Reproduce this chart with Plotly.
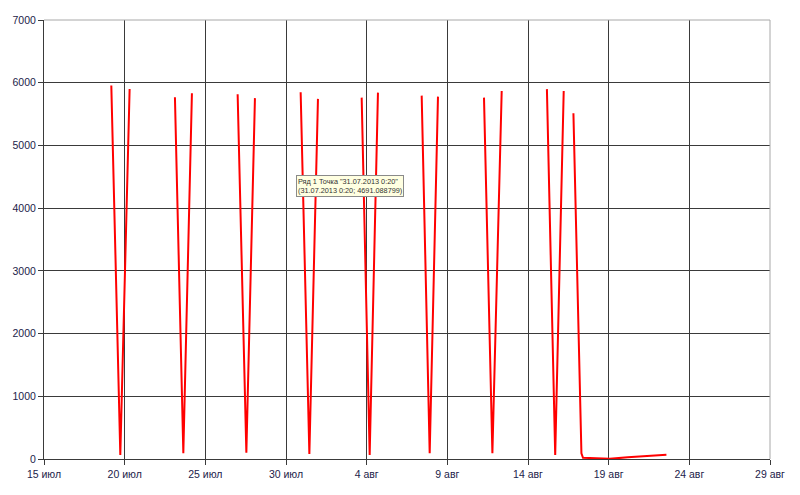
import plotly.graph_objects as go

# Series (None separates the individual cycles)
dates = [
    "2013-07-19 04:08", "2013-07-19 17:31", "2013-07-20 07:22", None,
    "2013-07-23 02:46", "2013-07-23 15:16", "2013-07-24 04:03", None,
    "2013-07-27 00:04", "2013-07-27 13:01", "2013-07-28 01:48", None,
    "2013-07-30 21:48", "2013-07-31 00:20", "2013-07-31 10:45", "2013-07-31 23:33", None,
    "2013-08-03 16:34", "2013-08-04 04:28", "2013-08-04 16:48", None,
    "2013-08-07 09:50", "2013-08-07 21:45", "2013-08-08 10:05", None,
    "2013-08-11 06:32", "2013-08-11 19:02", "2013-08-12 08:53", None,
    "2013-08-15 04:08", "2013-08-15 16:28", "2013-08-16 05:07", None,
    "2013-08-16 19:34", "2013-08-17 07:28", "2013-08-17 09:50", "2013-08-19 01:30",
    "2013-08-20 04:20", "2013-08-22 13:55",
]
values = [
    5954, 64, 5900, None,
    5769, 91, 5833, None,
    5817, 101, 5754, None,
    5848, 4691.088799, 80, 5742, None,
    5762, 64, 5842, None,
    5794, 91, 5778, None,
    5762, 91, 5869, None,
    5898, 64, 5869, None,
    5514, 91, 20, 2,
    27, 69,
]

x_tick_vals = ["2013-07-15", "2013-07-20", "2013-07-25", "2013-07-30", "2013-08-04",
               "2013-08-09", "2013-08-14", "2013-08-19", "2013-08-24", "2013-08-29"]
x_tick_text = ["15 июл", "20 июл", "25 июл", "30 июл", "4 авг",
               "9 авг", "14 авг", "19 авг", "24 авг", "29 авг"]
y_tick_vals = [0, 1000, 2000, 3000, 4000, 5000, 6000, 7000]
y_tick_text = ["0", "1000", "2000", "3000", "4000", "5000", "6000", "7000"]

tooltip_text = 'Ряд 1 Точка "31.07.2013 0:20"<br>(31.07.2013 0:20; 4691.088799)'

fig = go.Figure()
fig.add_trace(go.Scatter(
    x=dates, y=values, mode="lines",
    line=dict(color="#ff0000", width=2),
    connectgaps=False, hoverinfo="skip", showlegend=False,
))

font_col = "#1c1c4a"
grid_col = "#3a3a3a"

fig.update_layout(
    width=800, height=495,
    margin=dict(l=44, r=30, t=20, b=36),
    paper_bgcolor="white", plot_bgcolor="white",
    font=dict(family="Liberation Sans, Arial, sans-serif", size=10.5, color=font_col),
    hovermode=False,
    xaxis=dict(
        type="date",
        range=["2013-07-15", "2013-08-29"],
        tickmode="array", tickvals=x_tick_vals, ticktext=x_tick_text,
        showgrid=True, gridcolor=grid_col, gridwidth=1,
        showline=True, linecolor=grid_col, linewidth=1,
        ticks="outside", ticklen=5, tickcolor=grid_col,
        zeroline=False,
        tickfont=dict(color=font_col, size=10.5),
    ),
    yaxis=dict(
        range=[0, 7000],
        tickmode="array", tickvals=y_tick_vals, ticktext=y_tick_text,
        showgrid=True, gridcolor=grid_col, gridwidth=1,
        showline=True, linecolor=grid_col, linewidth=1,
        ticks="outside", ticklen=5, tickcolor=grid_col,
        zeroline=False,
        tickfont=dict(color=font_col, size=10.5),
    ),
)

# light grey top and right borders (as in the reference)
fig.add_shape(type="line", xref="paper", yref="paper", x0=0, x1=1, y0=1, y1=1,
              line=dict(color="#a8a8a8", width=1))
fig.add_shape(type="line", xref="paper", yref="paper", x0=1, x1=1, y0=0, y1=1,
              line=dict(color="#a8a8a8", width=1))

# tooltip-like label
fig.add_annotation(
    xref="paper", yref="paper", x=0.3468, y=0.647,
    xanchor="left", yanchor="top", showarrow=False,
    text=tooltip_text, align="left",
    font=dict(family="Liberation Sans, Arial, sans-serif", size=7.3, color="#333333"),
    bgcolor="#ffffe1", bordercolor="#8a8a8a", borderwidth=1, borderpad=1,
)

fig.write_html("out.html", config={"displayModeBar": False},
               post_script="document.body.style.margin='0';")
